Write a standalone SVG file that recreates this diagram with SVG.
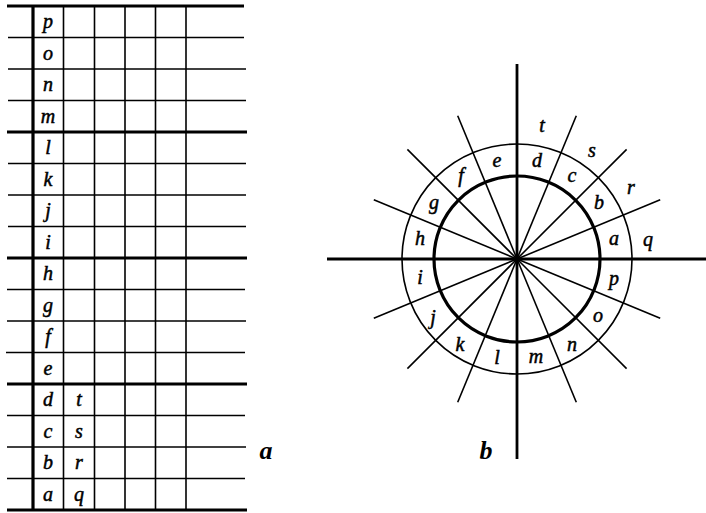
<svg xmlns="http://www.w3.org/2000/svg" width="706" height="513" viewBox="0 0 706 513">
<style>
.thin{stroke:#000;stroke-width:1.6;fill:none}
.thick{stroke:#000;stroke-width:3.2;fill:none}
.ax{stroke:#000;stroke-width:2.8;fill:none}
.lt{font-family:"Liberation Serif",serif;font-style:italic;font-size:20px;text-anchor:middle;fill:#000;stroke:#000;stroke-width:0.5}
.big{font-family:"Liberation Serif",serif;font-style:italic;font-weight:bold;font-size:26px;text-anchor:middle;fill:#000}
</style>
<rect width="706" height="513" fill="#fff"/>
<g id="table-a">
<g id="grid">
<line class="thick" x1="7" y1="6" x2="244" y2="6"/>
<line class="thin" x1="8" y1="37.5" x2="244" y2="37.5"/>
<line class="thin" x1="8" y1="69" x2="246" y2="69"/>
<line class="thin" x1="8" y1="100.5" x2="246" y2="100.5"/>
<line class="thick" x1="7" y1="132" x2="247" y2="132"/>
<line class="thin" x1="8" y1="163.5" x2="246" y2="163.5"/>
<line class="thin" x1="8" y1="195" x2="246" y2="195"/>
<line class="thin" x1="8" y1="226.5" x2="246" y2="226.5"/>
<line class="thick" x1="7" y1="258" x2="247" y2="258"/>
<line class="thin" x1="7" y1="289.5" x2="245" y2="289.5"/>
<line class="thin" x1="7" y1="321" x2="246" y2="321"/>
<line class="thin" x1="6" y1="352.5" x2="245" y2="352.5"/>
<line class="thick" x1="7" y1="384" x2="247" y2="384"/>
<line class="thin" x1="7" y1="415.5" x2="245" y2="415.5"/>
<line class="thin" x1="7" y1="447" x2="246" y2="447"/>
<line class="thin" x1="7" y1="478.5" x2="245" y2="478.5"/>
<line class="thick" x1="7" y1="510" x2="247" y2="510"/>
<line class="thick" x1="33" y1="6" x2="33" y2="510"/>
<line class="thin" x1="63.5" y1="6" x2="63.5" y2="510"/>
<line class="thin" x1="94.5" y1="6" x2="94.5" y2="510"/>
<line class="thin" x1="125" y1="6" x2="125" y2="510"/>
<line class="thin" x1="155.5" y1="6" x2="155.5" y2="510"/>
<line class="thin" x1="186" y1="6" x2="186" y2="510"/>
</g>
<g id="table-letters">
<text class="lt" x="48" y="28">p</text>
<text class="lt" x="48" y="59.5">o</text>
<text class="lt" x="48" y="91">n</text>
<text class="lt" x="48" y="122.5">m</text>
<text class="lt" x="48" y="154">l</text>
<text class="lt" x="48" y="185.5">k</text>
<text class="lt" x="48" y="217">j</text>
<text class="lt" x="48" y="248.5">i</text>
<text class="lt" x="48" y="280">h</text>
<text class="lt" x="48" y="311.5">g</text>
<text class="lt" x="48" y="343">f</text>
<text class="lt" x="48" y="374.5">e</text>
<text class="lt" x="48" y="406">d</text>
<text class="lt" x="48" y="437.5">c</text>
<text class="lt" x="48" y="469">b</text>
<text class="lt" x="48" y="500.5">a</text>
<text class="lt" x="79" y="406">t</text>
<text class="lt" x="79" y="437.5">s</text>
<text class="lt" x="79" y="469">r</text>
<text class="lt" x="79" y="500.5">q</text>
</g>
<text id="label-a" class="big" x="266" y="459">a</text>
</g>
<g id="circle-b">
<g id="rays">
<line class="thin" x1="517" y1="259" x2="660.2" y2="199.7"/>
<line class="thin" x1="517" y1="259" x2="626.6" y2="149.4"/>
<line class="thin" x1="517" y1="259" x2="576.3" y2="115.8"/>
<line class="thin" x1="517" y1="259" x2="457.7" y2="115.8"/>
<line class="thin" x1="517" y1="259" x2="407.4" y2="149.4"/>
<line class="thin" x1="517" y1="259" x2="373.8" y2="199.7"/>
<line class="thin" x1="517" y1="259" x2="373.8" y2="318.3"/>
<line class="thin" x1="517" y1="259" x2="407.4" y2="368.6"/>
<line class="thin" x1="517" y1="259" x2="457.7" y2="402.2"/>
<line class="thin" x1="517" y1="259" x2="576.3" y2="402.2"/>
<line class="thin" x1="517" y1="259" x2="626.6" y2="368.6"/>
<line class="thin" x1="517" y1="259" x2="660.2" y2="318.3"/>
<line class="ax" x1="517" y1="64" x2="517" y2="459"/>
<line class="ax" x1="327" y1="259" x2="706" y2="259"/>
</g>
<circle class="thin" cx="517" cy="259" r="115"/>
<circle class="thick" cx="517" cy="259" r="83"/>
<g id="ring-letters">
<text class="lt" x="614" y="245">a</text>
<text class="lt" x="599" y="209">b</text>
<text class="lt" x="572" y="182">c</text>
<text class="lt" x="537" y="167">d</text>
<text class="lt" x="497" y="167">e</text>
<text class="lt" x="461" y="182">f</text>
<text class="lt" x="434" y="209">g</text>
<text class="lt" x="420" y="245">h</text>
<text class="lt" x="420" y="284">i</text>
<text class="lt" x="433" y="324">j</text>
<text class="lt" x="460" y="351">k</text>
<text class="lt" x="497" y="364">l</text>
<text class="lt" x="536" y="363">m</text>
<text class="lt" x="572" y="351">n</text>
<text class="lt" x="598" y="322">o</text>
<text class="lt" x="614" y="285">p</text>
<text class="lt" x="648" y="246">q</text>
<text class="lt" x="631" y="194">r</text>
<text class="lt" x="592" y="157">s</text>
<text class="lt" x="542" y="132">t</text>
</g>
<text id="label-b" class="big" x="486" y="459">b</text>
</g>
</svg>
